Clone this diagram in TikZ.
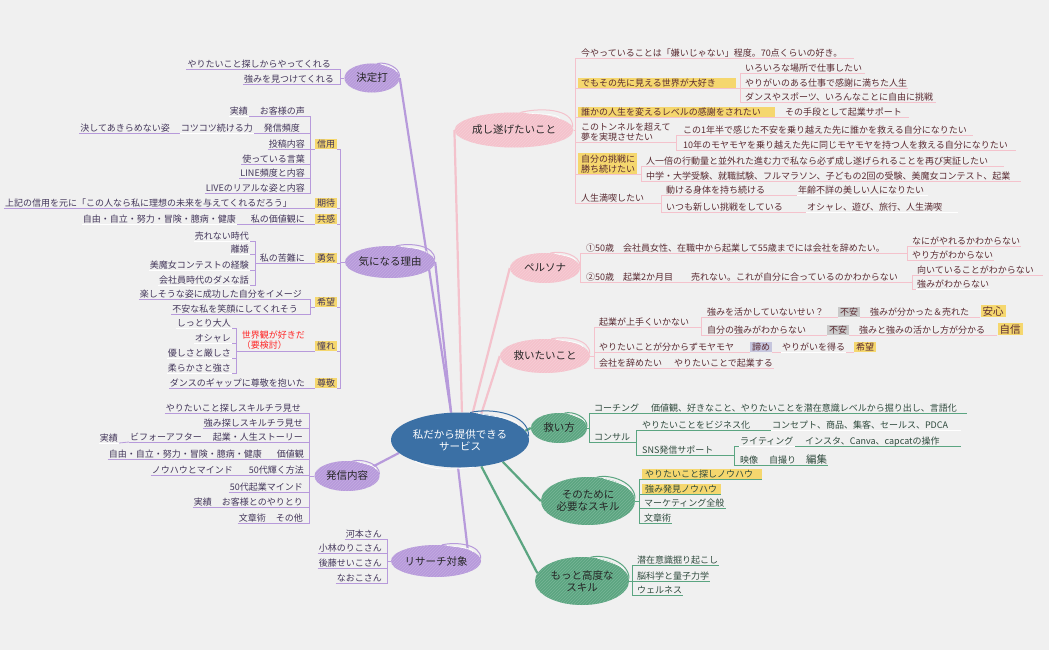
\documentclass[tikz,border=0pt]{standalone}
\usepackage{fontspec}
\setmainfont{Noto Sans CJK JP}
\usepackage{tikz}
\usetikzlibrary{
    patterns,
    shapes.geometric
}
\pgfdeclarelayer{bg}
\pgfsetlayers{bg,main}
\definecolor{paper}{HTML}{F0F0F0}
\definecolor{pur}{HTML}{B79ADB}
\definecolor{pnk}{HTML}{F4C2CC}
\definecolor{grn}{HTML}{5BA581}
\definecolor{blu}{HTML}{3B70A5}
\definecolor{yel}{HTML}{F5D76E}
\definecolor{gry}{HTML}{C9C9C9}
\definecolor{blg}{HTML}{C6C6DE}
\definecolor{inkp}{HTML}{43365A}
\definecolor{inkr}{HTML}{5A2B32}
\definecolor{inkg}{HTML}{2F4A3D}
\colorlet{branch}{pur}
\colorlet{ink}{inkp}
\tikzset{
    lab/.style={font=\fontsize{9}{10}\selectfont, text=ink, inner xsep=1pt, inner ysep=0pt,
        text height=8pt, text depth=1.5pt},
    under/.style={append after command={(\tikzlastnode.south west) edge[draw=#1, line width=.8pt] (\tikzlastnode.south east)}},
    lleaf/.style={lab, anchor=south east, under=branch},
    lwhite/.style={lab, anchor=south east, under=white},
    rleaf/.style={lab, anchor=south west, under=branch},
    rwhite/.style={lab, anchor=south west, under=white},
    two/.style={align=left, text height=, text depth=, inner ysep=1pt},
    tag/.style={lab, fill=#1, anchor=south, inner xsep=2pt},
    bigtag/.style={tag=#1, font=\fontsize{10.5}{11}\selectfont, text height=10pt},
    conn/.style={draw=branch, line width=.8pt},
    trunk/.style={draw=#1, line width=2.2pt},
    swoosh/.style={append after command={
        (\tikzlastnode.70) edge[draw=#1, line width=1pt, out=14, in=88, looseness=.9] (\tikzlastnode.3)
        (\tikzlastnode.56) edge[draw=white, line width=.6pt, out=-18, in=100, looseness=.45] (\tikzlastnode.14)}},
    topic/.style={ellipse, inner sep=0pt, align=center, text=black!85, font=\fontsize{10.5}{12}\selectfont,
        preaction={fill=#1}, pattern=north east lines, pattern color=#1!82!white, swoosh=#1},
    hub/.style={ellipse, inner sep=0pt, align=center, text=white, fill=blu, font=\fontsize{10.5}{12}\selectfont,
        minimum width=138, minimum height=55, swoosh=blu,
        append after command={(\tikzlastnode.205) edge[draw=white, line width=.7pt, out=-28, in=186] (\tikzlastnode.298)}}
}
\begin{document}
\begin{tikzpicture}[x=1pt,y=-1pt]
    \begin{pgfonlayer}{bg}
        \fill[paper] (0,0) rectangle (1049,650);
    \end{pgfonlayer}
    \useasboundingbox (0,0) rectangle (1049,650);

    \node[hub] (core) at (460,440) {私だから提供できる\\サービス};

    % left branches
    \colorlet{branch}{pur}
    \colorlet{ink}{inkp}
    \node[topic=pur, minimum width=55, minimum height=29] (kettei) at (372,78) {決定打};
    \node[lleaf] (yaritai) at (332,69) {やりたいこと探しからやってくれる};
    \node[lleaf] (tsuyomi) at (335,84) {強みを見つけてくれる};
    \coordinate (ketteiS) at (340,78);

    \node[topic=pur, minimum width=90, minimum height=32] (kinaru) at (390,262) {気になる理由};
    \coordinate (kinaruS) at (340,262);
    \node[tag=yel] (shinyo) at (326,149) {信用};
    \node[tag=yel] (kitai) at (326,208) {期待};
    \node[tag=yel] (kyokan) at (326,224) {共感};
    \node[tag=yel] (yuki) at (326,263) {勇気};
    \node[tag=yel] (kibo) at (326,307) {希望};
    \node[tag=yel] (akogare) at (326,351) {憧れ};
    \node[tag=yel] (sonkei) at (326,388) {尊敬};
    \coordinate (shinyoS) at (310,149);
    \node[lleaf] (okyaku) at (306,116) {お客様の声};
    \node[lwhite] (jisseki) at (249,116) {実績};
    \node[lleaf] (hinshin) at (301,133) {発信頻度};
    \node[lwhite] (kotsu) at (254,133) {コツコツ続ける力};
    \node[lleaf] (kesshite) at (171,133) {決してあきらめない姿};
    \node[lleaf] (toko) at (306,149) {投稿内容};
    \node[lleaf] (kotoba) at (306,164) {使っている言葉};
    \node[lleaf] (line) at (306,178) {LINE頻度と内容};
    \node[lleaf] (live) at (306,193) {LIVEのリアルな姿と内容};
    \node[lleaf] (joki) at (293,208) {上記の信用を元に「この人なら私に理想の未来を与えてくれるだろう」};
    \node[lleaf] (kachi) at (306,224) {私の価値観に};
    \node[lwhite] (jiyu) at (237,224) {自由・自立・努力・冒険・臆病・健康};
    \node[lleaf] (kunan) at (306,263) {私の苦難に};
    \coordinate (kunanS) at (255,263);
    \node[lwhite] (urenai) at (250,241) {売れない時代};
    \node[lwhite] (rikon) at (250,254) {離婚};
    \node[lwhite] (bimajo) at (250,270) {美魔女コンテストの経験};
    \node[lwhite] (kaisha) at (250,285) {会社員時代のダメな話};
    \coordinate (kiboS) at (310,307);
    \node[lleaf] (tanoshi) at (303,299) {楽しそうな姿に成功した自分をイメージ};
    \node[lleaf] (fuan) at (299,314) {不安な私を笑顔にしてくれそう};
    \node[lab, text=red!85, anchor=south east, two] (sekai) at (306,351) {世界観が好きだ\\（要検討）};
    \coordinate (sekaiS) at (236,351);
    \node[lwhite] (shittori) at (232,328) {しっとり大人};
    \node[lwhite] (oshare) at (232,343) {オシャレ};
    \node[lwhite] (yasashi) at (232,358) {優しさと厳しさ};
    \node[lwhite] (yawara) at (232,373) {柔らかさと強さ};
    \node[lleaf] (dance) at (306,388) {ダンスのギャップに尊敬を抱いた};

    \node[topic=pur, minimum width=65, minimum height=30] (hasshin) at (347,476) {発信内容};
    \coordinate (hasshinS) at (309,476);
    \node[lleaf] (chira) at (302,413) {やりたいこと探しスキルチラ見せ};
    \node[lleaf] (chirb) at (304,428) {強み探しスキルチラ見せ};
    \node[lleaf] (story) at (304,442) {起業・人生ストーリー};
    \node[lleaf] (before) at (203,442) {ビフォーアフター};
    \node[lwhite] (jissekb) at (119,443) {実績};
    \node[lleaf] (kachikan) at (305,459) {価値観};
    \node[lleaf] (jiyub) at (263,459) {自由・自立・努力・冒険・臆病・健康};
    \node[lleaf] (kagayaku) at (305,475) {50代輝く方法};
    \node[lleaf] (knowhow) at (234,475) {ノウハウとマインド};
    \node[lleaf] (mind) at (304,492) {50代起業マインド};
    \node[lleaf] (yaritori) at (304,507) {お客様とのやりとり};
    \node[lleaf] (jissekc) at (213,507) {実績};
    \node[lleaf] (sonota) at (304,523) {その他};
    \node[lleaf] (bunsho) at (267,523) {文章術};

    \node[topic=pur, minimum width=90, minimum height=32] (research) at (436,561) {リサーチ対象};
    \coordinate (researchS) at (387,561);
    \node[lleaf] (kawamoto) at (383,539) {河本さん};
    \node[lleaf] (kobayashi) at (383,553) {小林のりこさん};
    \node[lleaf] (goto) at (383,568) {後藤せいこさん};
    \node[lleaf] (nao) at (383,583) {なおこさん};

    \begin{pgfonlayer}{bg}
        \draw[trunk=pur] (core.108) -- (kettei.east);
        \draw[trunk=pur] (core.108) -- (kinaru.east);
        \draw[trunk=pur] (core.192) -- (hasshin.20);
        \draw[trunk=pur] (core.266) -- (research.20);
        \draw[conn] (kettei.west) -- (ketteiS);
        \draw[conn] (kinaru.west) -- (kinaruS);
        \draw[conn] (hasshin.west) -- (hasshinS);
        \draw[conn] (research.west) -- (researchS);
        \foreach \c in {yaritai,tsuyomi}
            \draw[conn] (\c.south east) -| (ketteiS);
        \foreach \c in {shinyo,kitai,kyokan,yuki,kibo,akogare,sonkei}
            \draw[conn] (\c.south east) -| (kinaruS);
        \draw[conn] (shinyo.south west) -- (shinyoS);
        \foreach \c in {okyaku,hinshin,toko,kotoba,line,live}
            \draw[conn] (\c.south east) -| (shinyoS);
        \foreach \c in {tanoshi,fuan}
            \draw[conn] (\c.south east) -| (kiboS);
        \draw[conn] (kibo.south west) -- (kiboS);
        \foreach \c in {urenai,rikon,bimajo,kaisha}
            \draw[conn] (\c.south east) -| (kunanS);
        \draw[conn] (kunan.south west) -- (kunanS);
        \foreach \c in {shittori,oshare,yasashi,yawara}
            \draw[conn] (\c.south east) -| (sekaiS);
        \draw[conn] (akogare.south west) -- (sekaiS);
        \foreach \a/\b in {kitai/joki,kyokan/kachi,yuki/kunan,sonkei/dance,okyaku/jisseki,hinshin/kotsu,kotsu/kesshite,kachi/jiyu,story/before,before/jissekb,kachikan/jiyub,kagayaku/knowhow,yaritori/jissekc,sonota/bunsho}
            \draw[conn] (\a.south west) -- (\b.south east);
        \foreach \c in {chira,chirb,story,kachikan,kagayaku,mind,yaritori,sonota}
            \draw[conn] (\c.south east) -| (hasshinS);
        \foreach \c in {kawamoto,kobayashi,goto,nao}
            \draw[conn] (\c.south east) -| (researchS);
    \end{pgfonlayer}

    % pink branches
    \colorlet{branch}{pnk}
    \colorlet{ink}{inkr}
    \node[topic=pnk, minimum width=110, minimum height=35] (nashi) at (514,130) {成し遂げたいこと};
    \coordinate (nashiS) at (575,130);
    \node[rleaf] (ima) at (580,58) {今やっていることは「嫌いじゃない」程度。70点くらいの好き。};
    \node[rleaf, fill=yel] (demo) at (578,88) {\kern2pt でもその先に見える世界が大好き\kern19pt};
    \coordinate (demoS) at (740,88);
    \node[rleaf] (iroiro) at (744,73) {いろいろな場所で仕事したい};
    \node[rleaf] (yarigai) at (744,88) {やりがいのある仕事で感謝に満ちた人生};
    \node[rleaf] (sports) at (744,102) {ダンスやスポーツ、いろんなことに自由に挑戦};
    \node[rleaf, fill=yel] (dareka) at (578,117) {\kern2pt 誰かの人生を変えるレベルの感謝をされたい\kern13pt};
    \node[rleaf] (shudan) at (784,117) {その手段として起業サポート};
    \node[rleaf, two] (tunnel) at (580,142) {このトンネルを超えて\\夢を実現させたい};
    \coordinate (tunnelS) at (676,142);
    \node[rleaf] (ichinen) at (682,135) {この1年半で感じた不安を乗り越えた先に誰かを救える自分になりたい};
    \node[rleaf] (junen) at (682,150) {10年のモヤモヤを乗り越えた先に同じモヤモヤを持つ人を救える自分になりたい};
    \node[rleaf, two, fill=yel] (chosen) at (578,174) {\kern2pt 自分の挑戦に\kern1pt\\\kern2pt 勝ち続けたい};
    \coordinate (chosenS) at (641,174);
    \node[rleaf] (ichibai) at (645,166) {人一倍の行動量と並外れた進む力で私なら必ず成し遂げられることを再び実証したい};
    \node[rleaf] (chugaku) at (645,181) {中学・大学受験、就職試験、フルマラソン、子どもの2回の受験、美魔女コンテスト、起業};
    \node[rleaf] (jinsei) at (580,203) {人生満喫したい};
    \coordinate (jinseiS) at (661,203);
    \node[rleaf] (karada) at (665,195) {動ける身体を持ち続ける};
    \node[rwhite] (nenrei) at (797,195) {年齢不詳の美しい人になりたい\kern3pt};
    \node[rleaf] (itsumo) at (665,212) {いつも新しい挑戦をしている};
    \node[rwhite] (osharb) at (806,212) {オシャレ、遊び、旅行、人生満喫\kern15pt};

    \node[topic=pnk, minimum width=70, minimum height=30] (persona) at (545,268) {ペルソナ};
    \coordinate (personaS) at (580,268);
    \node[rleaf] (pone) at (585,253) {①50歳　会社員女性、在職中から起業して55歳までには会社を辞めたい。};
    \coordinate (poneS) at (907,253);
    \node[rleaf] (naniga) at (911,246) {なにがやれるかわからない};
    \node[rleaf] (yarikata) at (911,260) {やり方がわからない};
    \node[rleaf] (ptwo) at (585,282) {②50歳　起業2か月目　　売れない。これが自分に合っているのかわからない};
    \coordinate (ptwoS) at (912,282);
    \node[rleaf] (muite) at (916,275) {向いていることがわからない\kern8pt};
    \node[rwhite] (tsuyomib) at (916,289) {強みがわからない};

    \node[topic=pnk, minimum width=90, minimum height=34] (sukui) at (545,356) {救いたいこと};
    \coordinate (sukuiS) at (594,356);
    \node[rleaf] (umaku) at (598,327) {起業が上手くいかない};
    \coordinate (umakuS) at (701,327);
    \node[rleaf] (ikasu) at (706,317) {強みを活かしていないせい？};
    \node[tag=gry] (fuana) at (849,317) {不安};
    \node[rleaf] (wakatta) at (869,317) {強みが分かった＆売れた};
    \node[bigtag=yel] (anshin) at (993,317) {安心};
    \node[rleaf] (jibun) at (706,335) {自分の強みがわからない};
    \node[tag=gry] (fuanb) at (838,335) {不安};
    \node[rleaf] (ikashi) at (858,335) {強みと強みの活かし方が分かる};
    \node[bigtag=yel] (jishin) at (1010,335) {自信};
    \node[rleaf] (moya) at (598,352) {やりたいことが分からずモヤモヤ};
    \node[tag=blg] (akirame) at (761,352) {諦め};
    \node[rwhite] (eru) at (781,352) {やりがいを得る};
    \node[tag=yel] (kibob) at (865,352) {希望};
    \node[rleaf] (yame) at (598,368) {会社を辞めたい};
    \node[rleaf] (kigyo) at (673,368) {やりたいことで起業する};

    \begin{pgfonlayer}{bg}
        \draw[trunk=pnk] (core.86) -- (nashi.west);
        \draw[trunk=pnk] (core.65) -- (persona.west);
        \draw[trunk=pnk] (core.51) -- (sukui.west);
        \draw[conn] (nashi.east) -- (nashiS);
        \draw[conn] (persona.east) -- (personaS);
        \draw[conn] (sukui.east) -- (sukuiS);
        \foreach \c in {ima,demo,dareka,tunnel,chosen,jinsei}
            \draw[conn] (\c.south west) -| (nashiS);
        \foreach \c in {pone,ptwo}
            \draw[conn] (\c.south west) -| (personaS);
        \foreach \c in {umaku,moya,yame}
            \draw[conn] (\c.south west) -| (sukuiS);
        \foreach \a/\b in {demo/demoS,tunnel/tunnelS,chosen/chosenS,jinsei/jinseiS,pone/poneS,ptwo/ptwoS,umaku/umakuS}
            \draw[conn] (\a.south east) -- (\b);
        \foreach \c in {iroiro,yarigai,sports}
            \draw[conn] (\c.south west) -| (demoS);
        \foreach \c in {ichinen,junen}
            \draw[conn] (\c.south west) -| (tunnelS);
        \foreach \c in {ichibai,chugaku}
            \draw[conn] (\c.south west) -| (chosenS);
        \foreach \c in {karada,itsumo}
            \draw[conn] (\c.south west) -| (jinseiS);
        \foreach \c in {naniga,yarikata}
            \draw[conn] (\c.south west) -| (poneS);
        \foreach \c in {muite,tsuyomib}
            \draw[conn] (\c.south west) -| (ptwoS);
        \foreach \c in {ikasu,jibun}
            \draw[conn] (\c.south west) -| (umakuS);
        \foreach \a/\b in {dareka/shudan,karada/nenrei,itsumo/osharb,ikasu/fuana,fuana/wakatta,wakatta/anshin,jibun/fuanb,fuanb/ikashi,ikashi/jishin,moya/akirame,akirame/eru,eru/kibob,yame/kigyo}
            \draw[conn] (\a.south east) -- (\b.south west);
        \foreach \a/\d in {ima/10,iroiro/2,sports/2,shudan/6,ichinen/5,junen/7,ichibai/15,chugaku/9}
            \draw[conn] (\a.south east) -- ++(\d,0);
    \end{pgfonlayer}

    % green branches
    \colorlet{branch}{grn}
    \colorlet{ink}{inkg}
    \node[topic=grn, minimum width=56, minimum height=30] (kata) at (559,428) {救い方};
    \coordinate (kataS) at (589,428);
    \node[rleaf] (coach) at (593,413) {コーチング};
    \node[rleaf] (kachika) at (650,413) {価値観、好きなこと、やりたいことを潜在意識レベルから掘り出し、言語化};
    \node[rleaf] (consul) at (593,442) {コンサル};
    \coordinate (consulS) at (636,442);
    \node[rleaf] (biz) at (641,430) {やりたいことをビジネス化};
    \node[rwhite] (concept) at (771,430) {コンセプト、商品、集客、セールス、PDCA\kern12pt};
    \node[rleaf] (sns) at (641,455) {SNS発信サポート};
    \coordinate (snsS) at (734,455);
    \node[rwhite] (writing) at (739,446) {ライティング};
    \node[rleaf] (insta) at (804,446) {インスタ、Canva、capcatの操作};
    \node[rleaf] (eizo) at (739,465) {映像};
    \node[rleaf] (jidori) at (768,465) {自撮り};
    \node[rleaf, font=\fontsize{10.5}{11}\selectfont] (henshu) at (805,465) {編集};

    \node[topic=grn, minimum width=94, minimum height=48] (sonotame) at (588,501) {そのために\\必要なスキル};
    \coordinate (sonotameS) at (639,501);
    \node[rleaf, fill=yel] (sagashi) at (642,479) {\kern2pt やりたいこと探しノウハウ\kern8pt};
    \node[rleaf, fill=yel] (hakken) at (642,494) {\kern2pt 強み発見ノウハウ\kern3pt};
    \node[rleaf] (marke) at (643,508) {マーケティング全般};
    \node[rleaf] (bun) at (643,523) {文章術};

    \node[topic=grn, minimum width=94, minimum height=48] (motto) at (582,581) {もっと高度な\\スキル};
    \coordinate (mottoS) at (632,581);
    \node[rleaf] (senzai) at (636,565) {潜在意識掘り起こし};
    \node[rleaf] (nokagaku) at (636,581) {脳科学と量子力学};
    \node[rleaf] (well) at (636,595) {ウェルネス};

    \begin{pgfonlayer}{bg}
        \draw[trunk=grn] (core.8) -- (kata.west);
        \draw[trunk=grn] (core.333) -- (sonotame.west);
        \draw[trunk=grn] (core.309) -- (motto.170);
        \draw[conn] (kata.east) -- (kataS);
        \draw[conn] (sonotame.east) -- (sonotameS);
        \draw[conn] (motto.east) -- (mottoS);
        \draw[conn] (consul.south east) -- (consulS);
        \draw[conn] (sns.south east) -- (snsS);
        \foreach \c in {coach,consul}
            \draw[conn] (\c.south west) -| (kataS);
        \foreach \c in {biz,sns}
            \draw[conn] (\c.south west) -| (consulS);
        \foreach \c in {writing,eizo}
            \draw[conn] (\c.south west) -| (snsS);
        \foreach \c in {sagashi,hakken,marke,bun}
            \draw[conn] (\c.south west) -| (sonotameS);
        \foreach \c in {senzai,nokagaku,well}
            \draw[conn] (\c.south west) -| (mottoS);
        \foreach \a/\b in {coach/kachika,biz/concept,writing/insta,eizo/jidori,jidori/henshu}
            \draw[conn] (\a.south east) -- (\b.south west);
        \foreach \a/\d in {kachika/9,insta/20}
            \draw[conn] (\a.south east) -- ++(\d,0);
    \end{pgfonlayer}
\end{tikzpicture}
\end{document}
